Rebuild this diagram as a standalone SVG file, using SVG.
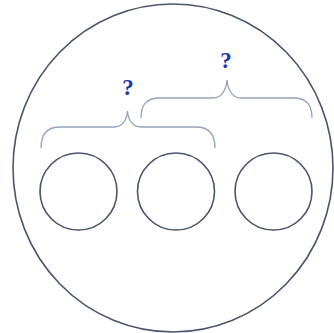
<svg xmlns="http://www.w3.org/2000/svg" width="334" height="333" viewBox="0 0 334 333">
<style>
.c{fill:none;stroke:#4b556b;stroke-width:1.6}
.b{fill:none;stroke:#95a3bd;stroke-width:1.3}
.q{font-family:"Liberation Serif",serif;font-weight:bold;font-size:23px;fill:#2238a8;text-anchor:middle}
</style>
<rect width="334" height="333" fill="#fff"/>
<g id="outer"><ellipse class="c" cx="173" cy="168" rx="160" ry="164"/></g>
<g id="n1"><circle class="c" cx="78.5" cy="191.5" r="38.5"/></g>
<g id="n2"><circle class="c" cx="176" cy="191.5" r="38.5"/></g>
<g id="n3"><circle class="c" cx="273.5" cy="191.5" r="38.5"/></g>
<g id="connectors">
<path class="b" d="M41,148 C41,135 46,127 60,127 L114,127 C122,127 127,120 127.5,111 C128,120 133,127 141,127 L196,127 C210,127 215,135 215,148"/>
<path class="b" d="M141,118 C141,105 146,98 160,98 L213,98 C221,98 226,91 227,80 C228,91 233,98 241,98 L293,98 C307,98 312,105 312,118"/>
</g>
<g id="labels">
<text class="q" x="128" y="95">?</text>
<text class="q" x="226" y="68">?</text>
</g>
</svg>
